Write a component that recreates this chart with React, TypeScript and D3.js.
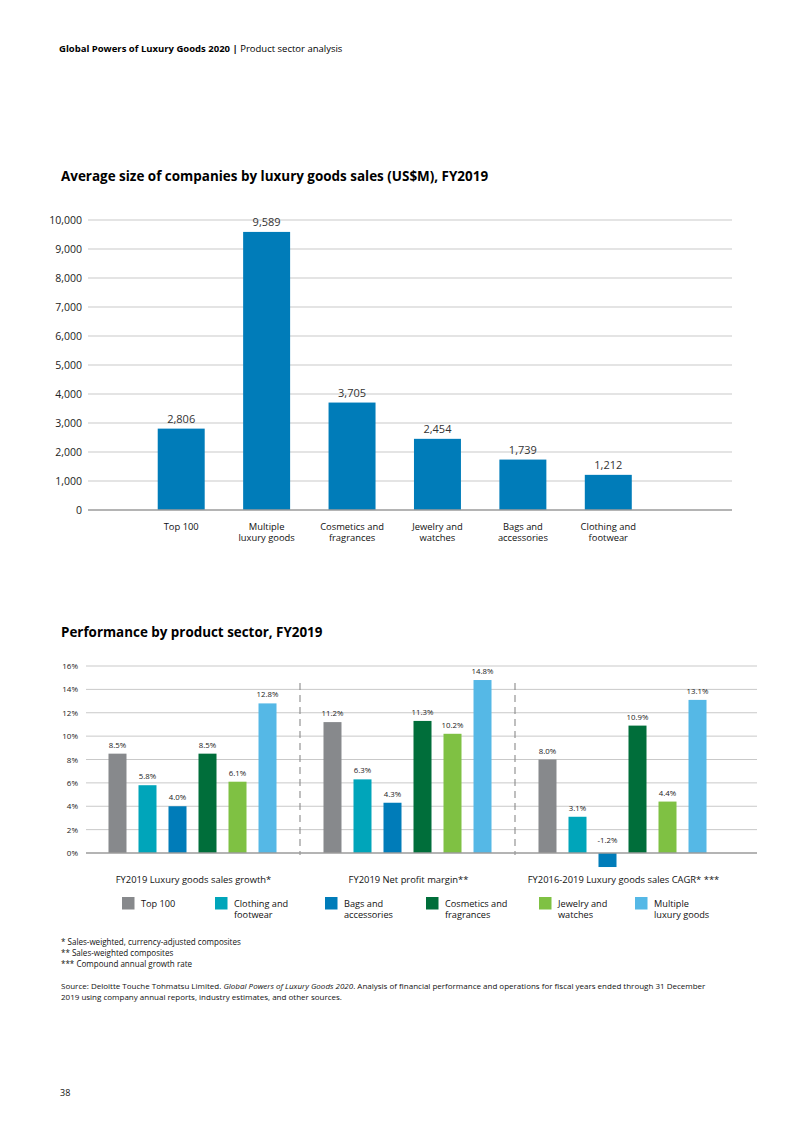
import React from "react";
import * as d3 from "d3";

const sizeCategories = [
  ["Top 100"],
  ["Multiple", "luxury goods"],
  ["Cosmetics and", "fragrances"],
  ["Jewelry and", "watches"],
  ["Bags and", "accessories"],
  ["Clothing and", "footwear"],
];
const sizeValues = [2806, 9589, 3705, 2454, 1739, 1212];
const sizeTicks = [0, 1000, 2000, 3000, 4000, 5000, 6000, 7000, 8000, 9000, 10000];

const metrics = [
  "FY2019 Luxury goods sales growth*",
  "FY2019 Net profit margin**",
  "FY2016-2019 Luxury goods sales CAGR* ***",
];
const sectors = [
  ["Top 100"],
  ["Clothing and", "footwear"],
  ["Bags and", "accessories"],
  ["Cosmetics and", "fragrances"],
  ["Jewelry and", "watches"],
  ["Multiple", "luxury goods"],
];
const sectorColors = ["#87898c", "#00a5ba", "#007cb9", "#006e3a", "#7fc143", "#55b8e6"];
const salesGrowth = [8.5, 5.8, 4.0, 8.5, 6.1, 12.8];
const netMargin = [11.2, 6.3, 4.3, 11.3, 10.2, 14.8];
const cagr = [8.0, 3.1, -1.2, 10.9, 4.4, 13.1];
const perfTicks = [0, 2, 4, 6, 8, 10, 12, 14, 16];

const footnotes = [
  "* Sales-weighted, currency-adjusted composites",
  "** Sales-weighted composites",
  "*** Compound annual growth rate",
];

const FONT = "'Open Sans', 'Noto Sans', sans-serif";

export default function App() {
  const x1 = d3
    .scaleBand<number>()
    .domain(d3.range(sizeValues.length))
    .range([138.5, 651])
    .paddingInner(0.45)
    .paddingOuter(0.225);
  const y1 = d3.scaleLinear().domain([0, 10000]).range([510, 220]);
  const fmt = d3.format(",");

  const perfSeries = [salesGrowth, netMargin, cagr];
  const xg = d3.scaleBand<number>().domain(d3.range(metrics.length)).range([85, 730]);
  const xs = d3
    .scaleBand<number>()
    .domain(d3.range(sectors.length))
    .range([0, xg.bandwidth()])
    .paddingInner(0.4)
    .paddingOuter(0.783);
  const y2 = d3.scaleLinear().domain([0, 16]).range([853, 666]);

  const legendX = [122, 215, 325, 426, 539, 635];

  return (
    <div>
      <style>{`body{margin:0}`}</style>
      <svg width={793} height={1122} style={{ display: "block", fontFamily: FONT }}>
        <rect width={793} height={1122} fill="#fff" />
        <text x={59} y={52} fontSize={9.5} fill="#000">
          <tspan fontWeight={700}>Global Powers of Luxury Goods 2020 | </tspan>
          <tspan>Product sector analysis</tspan>
        </text>

        <text x={61} y={181} fontSize={13.45} fontWeight={700} fill="#000">
          Average size of companies by luxury goods sales (US$M), FY2019
        </text>

        {sizeTicks.map((t) => (
          <g key={t}>
            {t !== 0 && (
              <line x1={88} x2={732} y1={y1(t)} y2={y1(t)} stroke="#c9c9c9" strokeWidth={1} />
            )}
            <text x={82} y={y1(t) + 3.8} fontSize={10.5} textAnchor="end" fill="#222">
              {fmt(t)}
            </text>
          </g>
        ))}
        {sizeValues.map((v, i) => (
          <g key={i}>
            <rect
              x={x1(i)}
              y={y1(v)}
              width={x1.bandwidth()}
              height={y1(0) - y1(v)}
              fill="#007cb9"
            />
            <text
              x={(x1(i) as number) + x1.bandwidth() / 2}
              y={y1(v) - 6}
              fontSize={11}
              textAnchor="middle"
              fill="#333"
            >
              {fmt(v)}
            </text>
            {sizeCategories[i].map((line, j) => (
              <text
                key={j}
                x={(x1(i) as number) + x1.bandwidth() / 2}
                y={530 + j * 11}
                fontSize={9.4}
                textAnchor="middle"
                fill="#111"
              >
                {line}
              </text>
            ))}
          </g>
        ))}
        <line x1={88} x2={732} y1={y1(0)} y2={y1(0)} stroke="#9b9b9b" strokeWidth={1.6} />

        <text x={61} y={637} fontSize={13.4} fontWeight={700} fill="#000">
          Performance by product sector, FY2019
        </text>

        {perfTicks.map((t) => (
          <g key={t}>
            {t !== 0 && (
              <line x1={86} x2={757} y1={y2(t)} y2={y2(t)} stroke="#c9c9c9" strokeWidth={1} />
            )}
            <text x={78} y={y2(t) + 3} fontSize={8} textAnchor="end" fill="#222">
              {t}%
            </text>
          </g>
        ))}
        {[1, 2].map((g) => (
          <line
            key={g}
            x1={xg(g)}
            x2={xg(g)}
            y1={683}
            y2={855}
            stroke="#8a8a8a"
            strokeWidth={1.1}
            strokeDasharray="7,5"
          />
        ))}
        {perfSeries.map((vals, g) => (
          <g key={g} transform={`translate(${xg(g)},0)`}>
            {vals.map((v, i) => {
              const top = y2(Math.max(v, 0));
              const bot = y2(Math.min(v, 0));
              const cx = (xs(i) as number) + xs.bandwidth() / 2;
              return (
                <g key={i}>
                  <rect x={xs(i)} y={top} width={xs.bandwidth()} height={bot - top} fill={sectorColors[i]} />
                  <text
                    x={cx}
                    y={v >= 0 ? top - 6 : y2(0) - 10}
                    fontSize={7.8}
                    textAnchor="middle"
                    fill="#222"
                  >
                    {v.toFixed(1)}%
                  </text>
                </g>
              );
            })}
            <text x={xg.bandwidth() / 2 + 1} y={883} fontSize={9.4} textAnchor="middle" fill="#111">
              {metrics[g]}
            </text>
          </g>
        ))}
        <line x1={86} x2={757} y1={y2(0)} y2={y2(0)} stroke="#9b9b9b" strokeWidth={1.6} />

        {sectors.map((lines, i) => (
          <g key={i}>
            <rect x={legendX[i]} y={897} width={12.5} height={12.5} fill={sectorColors[i]} />
            {lines.map((line, j) => (
              <text key={j} x={legendX[i] + 19} y={907 + j * 10.8} fontSize={9.2} fill="#111">
                {line}
              </text>
            ))}
          </g>
        ))}

        {footnotes.map((f, i) => (
          <text key={i} x={61} y={945 + i * 11} fontSize={8.05} fill="#111">
            {f}
          </text>
        ))}
        <text x={61} y={989} fontSize={8} fill="#111">
          <tspan>Source: Deloitte Touche Tohmatsu Limited. </tspan>
          <tspan fontStyle="italic">Global Powers of Luxury Goods 2020</tspan>
          <tspan>
            . Analysis of financial performance and operations for fiscal years ended through 31 December
          </tspan>
        </text>
        <text x={61} y={1000} fontSize={8} fill="#111">
          2019 using company annual reports, industry estimates, and other sources.
        </text>

        <text x={60} y={1096} fontSize={9} fill="#111">
          38
        </text>
      </svg>
    </div>
  );
}
